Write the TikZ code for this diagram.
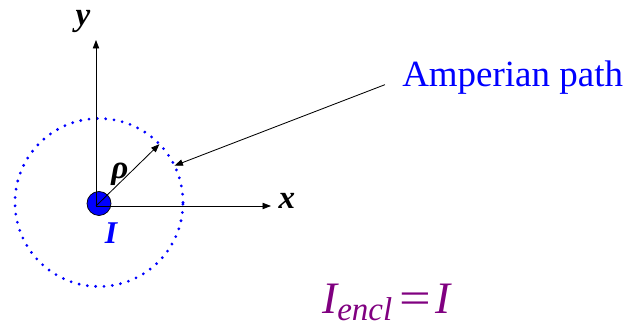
\documentclass[tikz,border=0pt]{standalone}
\usepackage{fontspec}
\setmainfont{Liberation Serif}
\usepackage{xcolor}
\usetikzlibrary{arrows.meta,positioning}
\definecolor{PathBlue}{HTML}{0000FF}
\definecolor{EnclPurple}{HTML}{800080}

\begin{document}
\begin{tikzpicture}[
  axis/.style={line width=0.6pt, -{Triangle[length=6pt,width=4.5pt]}},
  lbl/.style={inner sep=0pt, font=\fontsize{23.5}{26}\selectfont\bfseries\itshape},
  amppath/.style={PathBlue, line width=2.2pt, line cap=round,
                  dash pattern=on 0pt off 5.94pt},
  wirest/.style={circle, draw=black, fill=PathBlue, line width=0.5pt,
                 minimum size=0.6cm, inner sep=0pt}]
  \useasboundingbox (-2.4,-3.0) rectangle (13.3,5.15);
  \coordinate (O) at (0,0);
  \coordinate (C) at (0.075,0.0875);
  \coordinate (ytip) at (0,4.15);
  \coordinate (xtip) at (4.375,0);
  \coordinate (rhoend) at ([shift={(44:2.1)}]C);
  \coordinate (hit) at ([shift={(26:2.1)}]C);
  % Amperian loop and the wire
  \draw[amppath] (C) circle (2.1);
  \node[wirest] (wire) at (0.075,0.0625) {};
  \draw[axis] (O) -- (ytip);
  \draw[axis] (O) -- (xtip);
  \draw[axis] (O) -- (rhoend);
  \node[lbl] (ylab) at (-0.325,4.62) {y};
  \node[lbl] (xlab) at (4.775,0.125) {x};
  \node[lbl] (rholab) at (0.6,0.8) {ρ};
  \node[lbl, text=PathBlue, font=\fontsize{22.5}{24}\selectfont\bfseries\itshape]
    (Ilab) at (0.375,-0.675) {I};
  \node[anchor=base west, inner sep=0pt, text=EnclPurple,
        font=\fontsize{32}{36}\selectfont\itshape] (encl) at (5.65,-2.68)
    {I\raisebox{-5.5pt}{\fontsize{23.5}{24}\selectfont encl}\hspace{5pt}\upshape\scalebox{1.25}[1]{=}\hspace{3pt}\itshape I};
  \node[anchor=base west, inner sep=0pt, text=PathBlue,
        font=\fontsize{26.3}{30}\selectfont] (amp) at (7.65,2.975) {Amperian path};
  \draw[axis, shorten <=13pt] (amp.west) -- (hit);
\end{tikzpicture}
\end{document}
